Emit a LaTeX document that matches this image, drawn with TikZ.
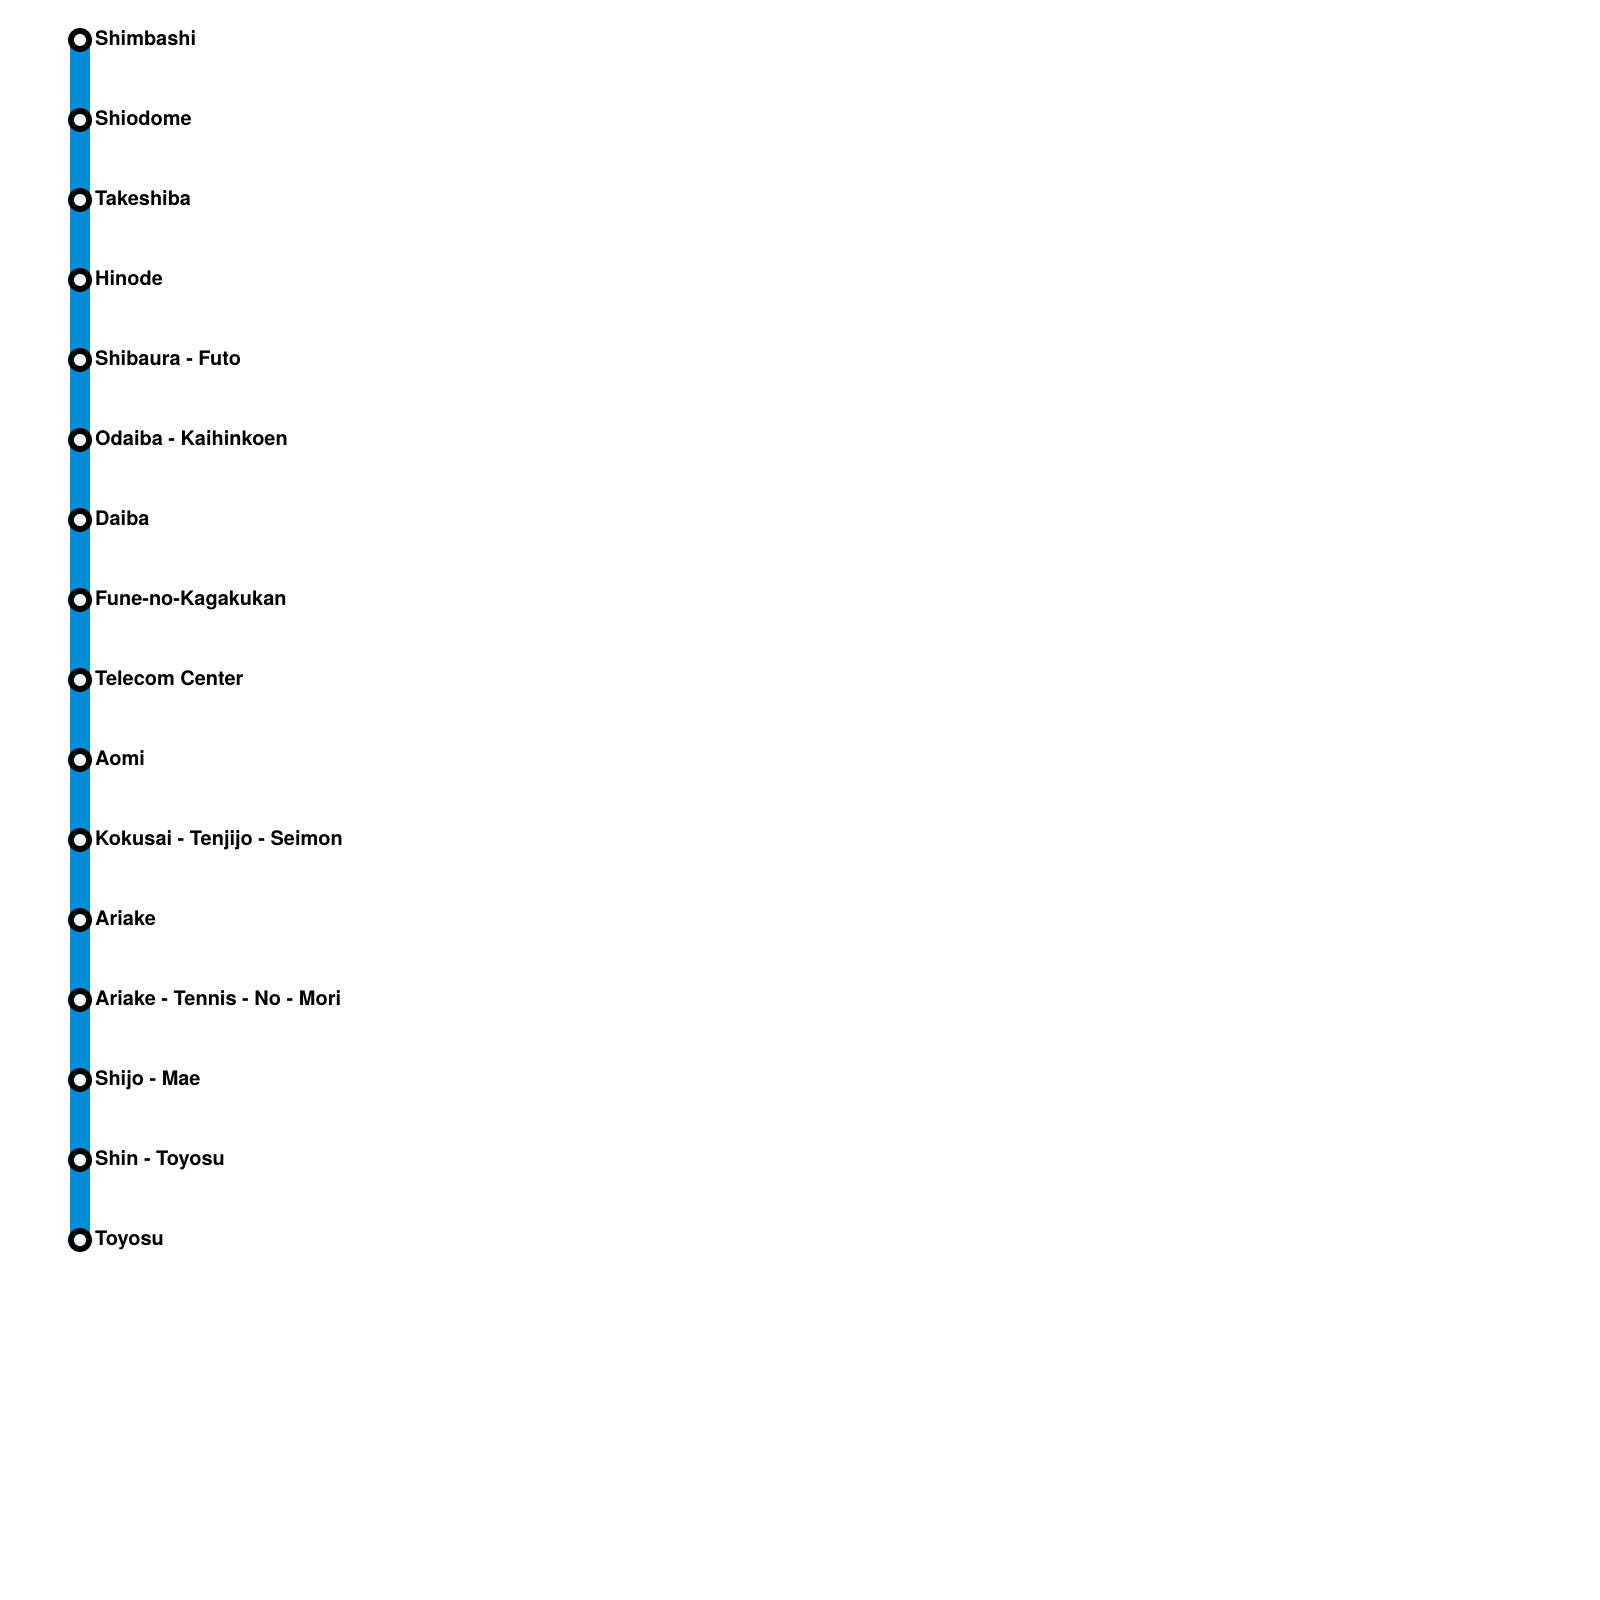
\documentclass[tikz,border=0pt]{standalone}
\usepackage{fontspec}
\setmainfont{TeX Gyre Heros}
\usetikzlibrary{positioning,backgrounds}
\definecolor{linecolor}{HTML}{008ED6}

\begin{document}
\begin{tikzpicture}[node distance=0.8cm]
        \tikzstyle{station}=[circle, draw=black, fill=white, line width=0.058cm, minimum size=0.182cm, inner sep=0pt]
        \tikzstyle{stname}=[inner sep=0pt, text height=0.16cm, text depth=0.05cm, font=\fontsize{5.68pt}{7pt}\selectfont\bfseries]
        \tikzstyle{route}=[draw=linecolor, line width=0.2cm]
        \useasboundingbox (0,0) rectangle (16,-16);
        \node[station] at (0.8,-0.4)     (shimbashi) {};
        \node[station, below of=shimbashi] (shiodome)  {};
        \node[station, below of=shiodome]  (takeshiba) {};
        \node[station, below of=takeshiba] (hinode)    {};
        \node[station, below of=hinode]    (shibaura)  {};
        \node[station, below of=shibaura]  (odaiba)    {};
        \node[station, below of=odaiba]    (daiba)     {};
        \node[station, below of=daiba]     (fune)      {};
        \node[station, below of=fune]      (telecom)   {};
        \node[station, below of=telecom]   (aomi)      {};
        \node[station, below of=aomi]      (kokusai)   {};
        \node[station, below of=kokusai]   (ariake)    {};
        \node[station, below of=ariake]    (tennis)    {};
        \node[station, below of=tennis]    (shijo)     {};
        \node[station, below of=shijo]     (shintoyosu) {};
        \node[station, below of=shintoyosu] (toyosu)   {};
        \node[stname, right=0.025cm of shimbashi] (shimbashi-t) {Shimbashi};
        \node[stname, right=0.025cm of shiodome]  (shiodome-t)  {Shiodome};
        \node[stname, right=0.025cm of takeshiba] (takeshiba-t) {Takeshiba};
        \node[stname, right=0.025cm of hinode]    (hinode-t)    {Hinode};
        \node[stname, right=0.025cm of shibaura]  (shibaura-t)  {Shibaura - Futo};
        \node[stname, right=0.025cm of odaiba]    (odaiba-t)    {Odaiba - Kaihinkoen};
        \node[stname, right=0.025cm of daiba]     (daiba-t)     {Daiba};
        \node[stname, right=0.025cm of fune]      (fune-t)      {Fune-no-Kagakukan};
        \node[stname, right=0.025cm of telecom]   (telecom-t)   {Telecom Center};
        \node[stname, right=0.025cm of aomi]      (aomi-t)      {Aomi};
        \node[stname, right=0.025cm of kokusai]   (kokusai-t)   {Kokusai - Tenjijo - Seimon};
        \node[stname, right=0.025cm of ariake]    (ariake-t)    {Ariake};
        \node[stname, right=0.025cm of tennis]    (tennis-t)    {Ariake - Tennis - No - Mori};
        \node[stname, right=0.025cm of shijo]     (shijo-t)     {Shijo - Mae};
        \node[stname, right=0.025cm of shintoyosu] (shintoyosu-t) {Shin - Toyosu};
        \node[stname, right=0.025cm of toyosu]    (toyosu-t)    {Toyosu};
        \begin{scope}[on background layer]
            \path[route] (shimbashi.center) -- (toyosu.center);
        \end{scope}
      \end{tikzpicture}
\end{document}
